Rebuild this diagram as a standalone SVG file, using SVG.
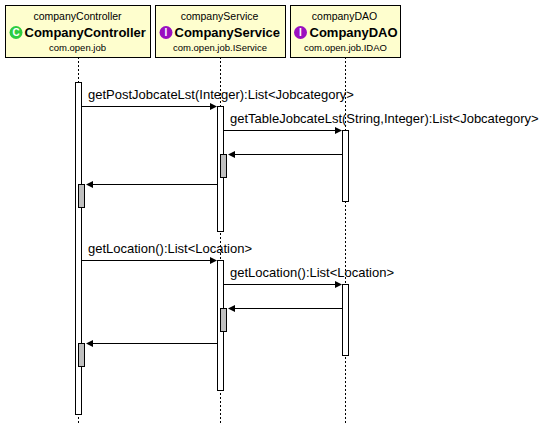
<svg xmlns="http://www.w3.org/2000/svg" width="543" height="424" viewBox="0 0 543 424">
<style>
.box{fill:#fefece;stroke:#000;stroke-width:1}
.life{stroke:#000;stroke-width:1;stroke-dasharray:2 2;fill:none}
.act{fill:#fff;stroke:#000;stroke-width:1}
.ret{fill:#bfbfbf;stroke:#000;stroke-width:1}
.msg{stroke:#000;stroke-width:1;fill:none}
.head{fill:#000;stroke:none}
text{font-family:"Liberation Sans",Arial,sans-serif;fill:#000}
.t1{font-size:10.5px;text-anchor:middle}
.t2{font-size:13px;font-weight:bold}
.t3{font-size:9.5px;text-anchor:middle}
.m{font-size:13px}
.badge{font-size:10px;font-weight:bold;text-anchor:middle;fill:#fff}
</style>
<rect width="543" height="424" fill="#fff"/>
<g id="lifelines">
<line class="life" x1="78.5" y1="57" x2="78.5" y2="424"/>
<line class="life" x1="220.5" y1="57" x2="220.5" y2="424"/>
<line class="life" x1="345.5" y1="57" x2="345.5" y2="424"/>
</g>
<g id="companyController">
<rect class="box" x="5.5" y="5.5" width="145" height="52"/>
<text class="t1" x="77.5" y="19.500">companyController</text>
<circle cx="16" cy="32.500" r="6.500" fill="#2ecc40"/>
<text class="badge" x="16" y="36">C</text>
<text class="t2" x="24.500" y="37">CompanyController</text>
<text class="t3" x="77.500" y="51">com.open.job</text>
<rect class="act" x="75.5" y="82.5" width="6" height="332"/>
<rect class="ret" x="78.500" y="184.500" width="6" height="23"/>
<rect class="ret" x="78.500" y="343.500" width="6" height="23"/>
</g>
<g id="companyService">
<rect class="box" x="155.500" y="5.5" width="130" height="52"/>
<text class="t1" x="219.500" y="19.500">companyService</text>
<circle cx="166" cy="32.500" r="6.500" fill="#9a0fc0"/>
<text class="badge" x="166" y="36">I</text>
<text class="t2" x="174.500" y="37">CompanyService</text>
<text class="t3" x="220" y="51">com.open.job.IService</text>
<rect class="act" x="217.500" y="106.500" width="6" height="125"/>
<rect class="act" x="217.500" y="260.500" width="6" height="130"/>
<rect class="ret" x="220.500" y="154.500" width="6" height="23"/>
<rect class="ret" x="220.500" y="308.500" width="6" height="23"/>
</g>
<g id="companyDAO">
<rect class="box" x="290.500" y="5.5" width="110" height="52"/>
<text class="t1" x="344.500" y="19.500">companyDAO</text>
<circle cx="300.500" cy="32.500" r="6.500" fill="#9a0fc0"/>
<text class="badge" x="300.500" y="36">I</text>
<text class="t2" x="309.500" y="37">CompanyDAO</text>
<text class="t3" x="345.500" y="51">com.open.job.IDAO</text>
<rect class="act" x="342.500" y="130.500" width="6" height="71"/>
<rect class="act" x="342.500" y="284.500" width="6" height="71"/>
</g>
<g id="connectors">
<line class="msg" x1="81.500" y1="106.500" x2="212" y2="106.500"/><polygon class="head" points="217,106.500 210,103 210,110"/>
<line class="msg" x1="223.500" y1="130.500" x2="337" y2="130.500"/><polygon class="head" points="342,130.500 335,127 335,134"/>
<line class="msg" x1="342.500" y1="154.500" x2="232" y2="154.500"/><polygon class="head" points="228,154.500 235,151 235,158"/>
<line class="msg" x1="217.500" y1="184.500" x2="90" y2="184.500"/><polygon class="head" points="86,184.500 93,181 93,188"/>
<line class="msg" x1="81.500" y1="260.500" x2="212" y2="260.500"/><polygon class="head" points="217,260.500 210,257 210,264"/>
<line class="msg" x1="223.500" y1="284.500" x2="337" y2="284.500"/><polygon class="head" points="342,284.500 335,281 335,288"/>
<line class="msg" x1="342.500" y1="308.500" x2="232" y2="308.500"/><polygon class="head" points="228,308.500 235,305 235,312"/>
<line class="msg" x1="217.500" y1="343.500" x2="90" y2="343.500"/><polygon class="head" points="86,343.500 93,340 93,347"/>
<text class="m" x="88" y="99">getPostJobcateLst(Integer):List&lt;Jobcategory&gt;</text>
<text class="m" x="230" y="123">getTableJobcateLst(String,Integer):List&lt;Jobcategory&gt;</text>
<text class="m" x="88" y="253">getLocation():List&lt;Location&gt;</text>
<text class="m" x="230" y="277">getLocation():List&lt;Location&gt;</text>
</g>
</svg>
